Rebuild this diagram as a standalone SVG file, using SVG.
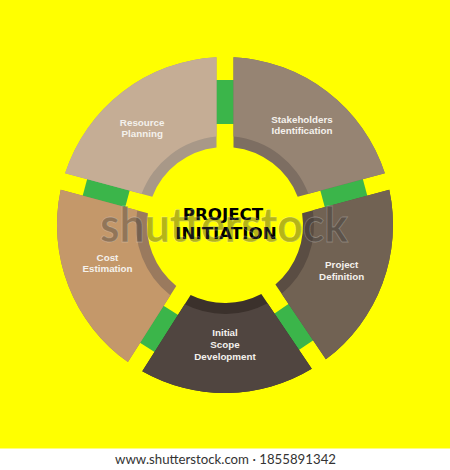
<svg xmlns="http://www.w3.org/2000/svg" width="450" height="470" viewBox="0 0 450 470">
  <style>
    .lbl { font-family: "Liberation Sans", Arial, sans-serif; font-weight: bold; font-size: 9.8px; fill: #f4f1ec; text-anchor: middle; }
    .title { font-family: "DejaVu Sans", "Liberation Sans", sans-serif; font-weight: bold; font-size: 16.7px; fill: #000; text-anchor: middle; }
    .link { fill: #3bb54a; }
    .wm { font-family: "Lato", "Liberation Sans", sans-serif; font-weight: bold; font-size: 47px; fill: #3c3c3c; fill-opacity: 0.4; stroke: #ffffff; stroke-opacity: 0.25; stroke-width: 0.8; }
    .foot { font-family: "Lato", "Open Sans", "Liberation Sans", sans-serif; font-size: 14px; fill: #333; }
  </style>
  <rect x="0" y="0" width="450" height="470" fill="#ffff00"/>

  <g id="connectors">
    <rect class="link" x="-11" y="-145" width="22" height="44" transform="translate(225 225) rotate(0)"/>
    <rect class="link" x="-11" y="-145" width="22" height="44" transform="translate(225 225) rotate(75)"/>
    <rect class="link" x="-11" y="-145" width="22" height="44" transform="translate(225 225) rotate(146)"/>
    <rect class="link" x="-11" y="-145" width="22" height="44" transform="translate(225 225) rotate(212.4)"/>
    <rect class="link" x="-11" y="-145" width="22" height="44" transform="translate(225 225) rotate(285)"/>
  </g>

  <g id="stakeholders">
    <path d="M233.50,57.22 A168,168 0 0 1 384.87,173.36 L297.69,196.73 A78,78 0 0 0 233.50,147.46 Z" fill="#7d6e62"/>
    <path d="M233.50,57.22 A168,168 0 0 1 384.87,173.36 L308.38,193.86 A89,89 0 0 0 233.50,136.41 Z" fill="#968473"/>
    <text class="lbl" x="302" y="122.7">Stakeholders</text>
    <text class="lbl" x="302" y="134.2">Identification</text>
  </g>

  <g id="project-definition">
    <path d="M389.27,189.78 A168,168 0 0 1 325.87,359.35 L275.42,284.51 A78,78 0 0 0 302.09,213.14 Z" fill="#5a4d43"/>
    <path d="M389.27,189.78 A168,168 0 0 1 325.87,359.35 L281.61,293.67 A89,89 0 0 0 312.77,210.28 Z" fill="#716253"/>
    <text class="lbl" x="341.7" y="268.3">Project</text>
    <text class="lbl" x="341.7" y="280">Definition</text>
  </g>

  <g id="initial-scope">
    <path d="M311.78,368.85 A168,168 0 0 1 142.27,371.22 L190.63,295.02 A78,78 0 0 0 261.31,294.03 Z" fill="#3b312c"/>
    <path d="M311.78,368.85 A168,168 0 0 1 142.27,371.22 L184.70,304.36 A89,89 0 0 0 267.50,303.20 Z" fill="#504540"/>
    <text class="lbl" x="225" y="336">Initial</text>
    <text class="lbl" x="225" y="347.8">Scope</text>
    <text class="lbl" x="225" y="359.8">Development</text>
  </g>

  <g id="cost-estimation">
    <path d="M127.92,362.11 A168,168 0 0 1 60.73,189.78 L147.91,213.14 A78,78 0 0 0 176.27,285.91 Z" fill="#9a7a5e"/>
    <path d="M127.92,362.11 A168,168 0 0 1 60.73,189.78 L137.23,210.28 A89,89 0 0 0 170.35,295.25 Z" fill="#c4986a"/>
    <text class="lbl" x="107.5" y="261">Cost</text>
    <text class="lbl" x="107.5" y="272.4">Estimation</text>
  </g>

  <g id="resource-planning">
    <path d="M65.13,173.36 A168,168 0 0 1 216.50,57.22 L216.50,147.46 A78,78 0 0 0 152.31,196.73 Z" fill="#a89888"/>
    <path d="M65.13,173.36 A168,168 0 0 1 216.50,57.22 L216.50,136.41 A89,89 0 0 0 141.62,193.86 Z" fill="#c5ad95"/>
    <text class="lbl" x="142.2" y="125.6">Resource</text>
    <text class="lbl" x="142.2" y="137.1">Planning</text>
  </g>

  <g id="project-initiation">
    <text class="title" x="223" y="220">PROJECT</text>
    <text class="title" x="226" y="238.5">INITIATION</text>
  </g>

  <text class="wm" x="100" y="242" textLength="248" lengthAdjust="spacingAndGlyphs">shutterstock</text>

  <rect x="0" y="448.5" width="450" height="21.5" fill="#ffffff"/>
  <text class="foot" x="115" y="463.5" textLength="221" lengthAdjust="spacingAndGlyphs">www.shutterstock.com · 1855891342</text>
</svg>
